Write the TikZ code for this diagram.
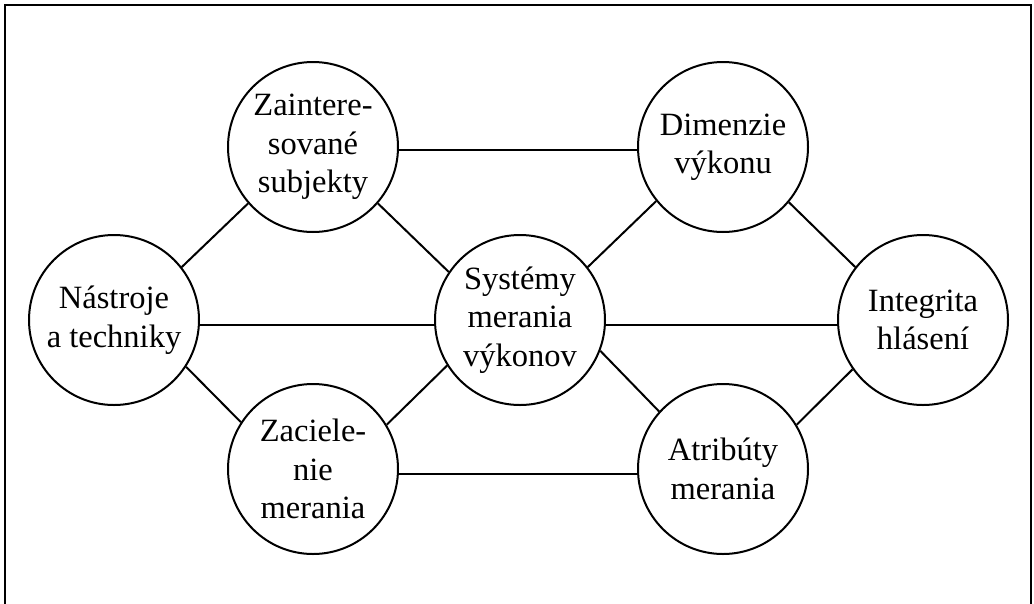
\documentclass[tikz,border=0pt]{standalone}
\usepackage{fontspec}
\setmainfont{Liberation Serif}
\begin{document}
\begin{tikzpicture}[x=1pt,y=-1pt,
  topic/.style={draw,circle,line width=2pt,minimum size=170pt,inner sep=0pt,
    align=center,font=\fontsize{32.5}{38.5}\selectfont},
  link/.style={line width=2pt}]
\useasboundingbox (0,0) rectangle (1034,603);
% outer frame, running off the lower edge
\begin{scope}
  \clip (0,0) rectangle (1034,603);
  \draw[line width=2pt] (5,5) rectangle (1031,640);
\end{scope}

\node[topic] (nastroje) at (114,320) {Nástroje\\a techniky};
\node[topic] (zaint) at (313,147) {Zaintere-\\sované\\subjekty};
\node[topic] (zaciel) at (313,469) {Zaciele-\\nie\\merania};
\node[topic] (system) at (520,320) {Systémy\\merania\\výkonov};
\node[topic] (dimenz) at (723,147) {Dimenzie\\výkonu};
\node[topic] (atrib) at (723,469) {Atribúty\\merania};
\node[topic] (integ) at (923,320) {Integrita\\hlásení};

% horizontal links
\draw[link] (zaint.-2) -- (dimenz.182);
\draw[link] (nastroje.-3) -- (system.183);
\draw[link] (system.-3) -- (integ.183);
\draw[link] (zaciel.-3) -- (atrib.183);
% diagonal links
\draw[link] (nastroje.38) -- (zaint.221);
\draw[link] (nastroje.-33) -- (zaciel.147);
\draw[link] (zaint.-41) -- (system.146);
\draw[link] (zaciel.31) -- (system.212);
\draw[link] (system.38) -- (dimenz.219);
\draw[link] (system.-21) -- (atrib.138);
\draw[link] (dimenz.-40) -- (integ.142);
\draw[link] (atrib.31) -- (integ.215);
\end{tikzpicture}
\end{document}
